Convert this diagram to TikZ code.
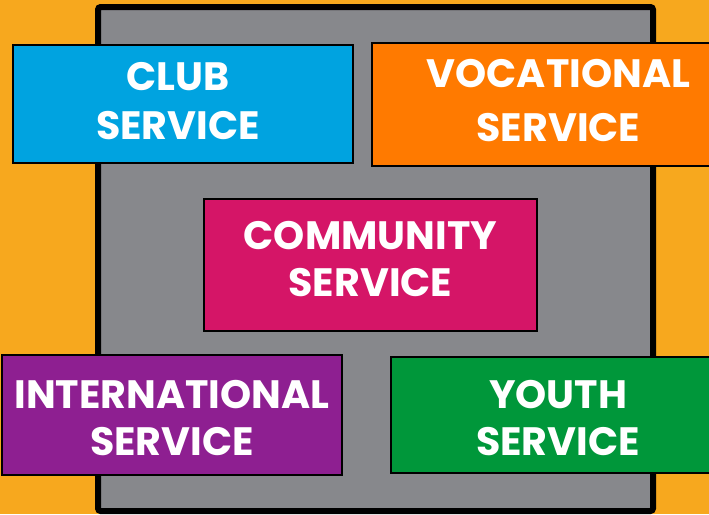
\documentclass[tikz,border=0pt]{standalone}
\usepackage{fontspec}
\setmainfont{Poppins}
\usepackage{tikz}
\usetikzlibrary{positioning}

\definecolor{bgorange}{HTML}{F7A81E}
\definecolor{framegray}{HTML}{87888C}
\definecolor{clubblue}{HTML}{00A3E0}
\definecolor{vocorange}{HTML}{FF7A00}
\definecolor{commpink}{HTML}{D51567}
\definecolor{intpurple}{HTML}{8E1F91}
\definecolor{youthgreen}{HTML}{00973A}

\begin{document}
\begin{tikzpicture}[
			x=0.75pt, y=-0.75pt,
			% colored box with white bold text
			servicebox/.style={rectangle, draw=black, line width=0.8pt, inner sep=0pt,
				text=white, align=center, font=\fontsize{29.7}{37}\selectfont\bfseries},
			% big gray frame behind the boxes
			frame/.style={draw=black, fill=framegray, line width=4.5pt, rounded corners=2pt}
		]
		\useasboundingbox (0,0) rectangle (709,514);
		\clip (0,0) rectangle (709,514);
		\fill[bgorange] (0,0) rectangle (709,514);
		\draw[frame] (98,7) rectangle (653,511);

		%Nodes
		\node[servicebox, fill=clubblue, minimum width=255pt, minimum height=88.5pt,
			text depth=5pt]
			(club) at (183,104) {CLUB\hspace*{7.5pt}\\SERVICE\hspace*{7.5pt}};
		\node[servicebox, fill=vocorange, minimum width=279.75pt, minimum height=92.25pt,
			font=\fontsize{29.7}{41}\selectfont\bfseries, text depth=6pt]
			(vocational) at (558.5,104.5) {VOCATIONAL\\SERVICE};
		\node[servicebox, fill=commpink, minimum width=249.75pt, minimum height=99pt,
			font=\fontsize{29.7}{35}\selectfont\bfseries, text depth=9.5pt]
			(community) at (370.5,265) {COMMUNITY\\SERVICE};
		\node[servicebox, fill=intpurple, minimum width=255pt, minimum height=90pt,
			font=\fontsize{29.7}{35}\selectfont\bfseries]
			(international) at (172,415) {\rule{0pt}{26pt}INTERNATIONAL\\SERVICE};
		\node[servicebox, fill=youthgreen, minimum width=250.5pt, minimum height=87pt,
			font=\fontsize{29.7}{35}\selectfont\bfseries]
			(youth) at (558,415) {\rule{0pt}{26pt}YOUTH\\SERVICE};
	\end{tikzpicture}
\end{document}
